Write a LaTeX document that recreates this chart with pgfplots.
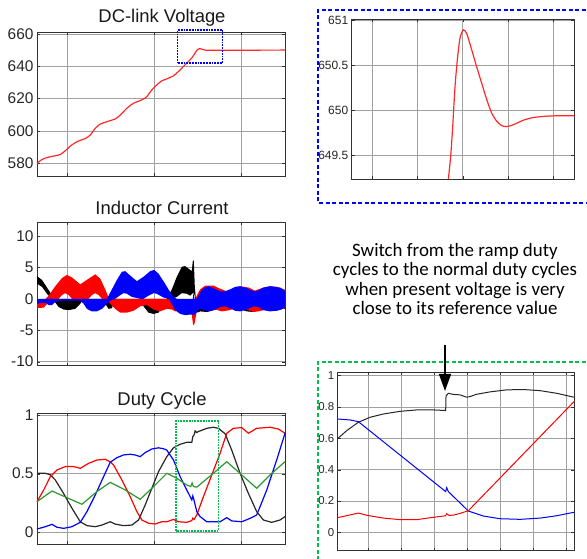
\documentclass[border=0pt]{standalone}
\usepackage{pgfplots}
\pgfplotsset{compat=1.18}
\usepackage{fontspec}
\setmainfont{Liberation Sans}
\newfontfamily\calib{Carlito}
\usetikzlibrary{arrows.meta}
\definecolor{mred}{RGB}{255,40,40}
\definecolor{mgreen}{RGB}{45,150,45}
\definecolor{gridc}{RGB}{160,160,160}
\definecolor{boxgreen}{RGB}{0,190,80}
\pgfplotsset{
  mat/.style={
    scale only axis,
    axis line style={black!80, line width=0.8bp},
    grid=major,
    major grid style={gridc, line width=0.6bp},
    tick align=inside,
    major tick length=3bp,
    tick style={black!80},
    xticklabels={},
    ticklabel style={font=\fontsize{15.5}{16}\selectfont, text=black!85},
    /pgf/number format/assume math mode=true,
    clip=false,
  },
}
\begin{document}
\begin{tikzpicture}[x=1bp,y=1bp]
\useasboundingbox (0,0) rectangle (587,559);

% ---------- DC-link voltage ----------
\begin{axis}[mat, at={(37bp,383bp)}, anchor=south west, width=248bp, height=144bp,
  xmin=110, xmax=855, xtick={200,462,724},
  ymin=572.1, ymax=661.2, ytick={580,600,620,640,660}]
\addplot[mred, line width=1.2bp, smooth, tension=0.4] coordinates {
(110,580)(125,582.3)(140,583.5)(160,584.4)(180,585.4)(195,587.7)(210,590.6)(230,593.3)(255,595.3)(270,597.4)(285,601.6)(300,604.2)(320,605.7)(345,607.4)(360,609.8)(380,614)(400,617.1)(425,619.2)(440,621.2)(455,625.4)(470,628.5)(485,631)(500,632.2)(520,634.1)(535,636.8)(550,639.9)(565,643)(575,645.1)(585,648.2)(592,650.3)(598,650.9)(605,650.6)(615,650)(640,649.9)(855,650)};
\draw[blue, densely dotted, line width=1.8bp] (axis cs:532,641.8) rectangle (axis cs:667,662.3);
\end{axis}
\node[font=\fontsize{18.5}{20}\selectfont, text=black!90] at (162,541) {DC-link Voltage};

% ---------- zoom of voltage ----------
\begin{axis}[mat, at={(351.7bp,380bp)}, anchor=south west, width=222.6bp, height=160bp,
  xmin=155, xmax=823, xtick={217,352,488,625,760},
  ymin=649.24, ymax=651.01, ytick={649.5,650,650.5,651},
  ticklabel style={font=\fontsize{12}{13}\selectfont},
  yticklabel style={/pgf/number format/fixed}]
\addplot[mred, line width=1.2bp, smooth, tension=0.4] coordinates {
(445,649.24)(452,649.49)(458,649.82)(465,650.26)(472,650.56)(480,650.80)(490,650.89)(500,650.85)(515,650.67)(530,650.48)(545,650.30)(560,650.12)(575,649.97)(590,649.88)(605,649.83)(620,649.82)(640,649.84)(670,649.89)(700,649.92)(740,649.935)(780,649.94)(823,649.94)};
\end{axis}
\draw[blue, dash pattern=on 4bp off 2.5bp, line width=1.8bp] (592,549) -- (318,549) -- (318,356) -- (592,356);

% ---------- inductor current ----------
\begin{axis}[mat, at={(37bp,193.3bp)}, anchor=south west, width=248bp, height=143.4bp,
  xmin=110, xmax=855, xtick={200,462,724},
  ymin=-10.64, ymax=12.17, ytick={-10,-5,0,5,10}]
\addplot[fill=black, draw=none] coordinates {
(110,3.6)(125,3.0)(140,1.8)(155,0.6)(165,0)(305,0)(345,0)(410,0)(500,0)(515,1.5)(530,3.5)(545,5.1)(555,5.2)(565,4.8)(575,4.4)(578,6.0)(581,6.1)(584,2.0)(588,-0.5)(595,0.8)(610,1.2)(650,1.0)(700,0.8)(750,1.0)(800,1.0)(855,0.8)
(855,-1.6)(830,-1.3)(790,-1.5)(760,-2.1)(740,-2.0)(700,-1.3)(650,-1.7)(620,-2.1)(600,-2.0)(592,-2.2)(588,-1.5)(584,0.5)(580,1.0)(570,0.5)(560,0.8)(545,0.9)(530,0.3)(515,0)(500,0)(490,-1.0)(475,-2.2)(460,-2.4)(445,-2.2)(430,-1.2)(420,-0.3)(410,0)(345,0)(335,-1.5)(325,-1.6)(315,-0.8)(305,0)(250,0)(240,-0.8)(225,-1.6)(205,-1.8)(190,-1.7)(175,-1.3)(165,-0.6)(155,-0.1)(140,0.8)(125,1.9)(110,2.4)} --cycle;
\addplot[fill=red, draw=none] coordinates {
(110,-0.5)(130,-0.3)(145,0.5)(165,2.0)(185,3.3)(200,3.8)(215,3.4)(240,2.3)(265,3.2)(285,3.9)(300,3.2)(315,1.5)(325,0.2)(330,0)(520,0)(530,-0.2)(575,-0.5)(579,-2.0)(582,-0.5)(590,0.5)(600,1.5)(615,2.1)(640,2.1)(660,1.6)(680,1.2)(700,1.6)(720,2.0)(745,1.8)(765,1.3)(785,1.7)(810,2.0)(840,1.8)(855,1.4)
(855,-1.4)(830,-1.9)(800,-1.7)(775,-2.0)(760,-2.1)(740,-1.7)(715,-1.3)(690,-1.8)(665,-2.0)(640,-1.6)(615,-1.2)(600,-1.5)(590,-2.0)(583,-4.0)(579,-4.2)(575,-2.5)(560,-2.0)(540,-1.9)(525,-2.0)(515,-1.7)(500,-1.6)(480,-2.0)(460,-1.7)(440,-1.0)(420,-1.2)(400,-1.9)(380,-2.2)(360,-2.2)(345,-1.6)(330,-0.8)(320,0)(305,0)(295,0.6)(285,0.9)(275,0.6)(265,0)(215,0)(205,0.6)(195,0.9)(185,0.6)(175,0)(160,0)(145,-0.6)(130,-1.4)(110,-1.5)} --cycle;
\addplot[fill=blue, draw=none] coordinates {
(110,0)(320,0)(335,1.5)(350,3.0)(365,4.3)(375,4.4)(390,3.7)(410,2.8)(430,3.5)(450,4.4)(462,4.6)(475,4.0)(490,2.8)(505,1.5)(520,0.3)(530,0)(578,0)(580,1.0)(583,0)(590,0)(600,1.0)(610,1.7)(625,2.0)(640,1.7)(660,1.2)(675,1.2)(690,1.5)(705,1.9)(720,2.0)(740,1.7)(760,1.2)(775,1.3)(790,1.8)(810,2.0)(830,1.9)(845,1.6)(855,1.3)
(855,-1.3)(845,-1.7)(830,-1.9)(810,-2.0)(790,-1.8)(775,-1.3)(760,-1.2)(740,-1.7)(720,-2.0)(705,-1.9)(690,-1.5)(675,-1.2)(660,-1.3)(640,-1.8)(625,-2.0)(610,-1.8)(600,-1.5)(592,-2.0)(585,-2.5)(570,-2.5)(555,-2.6)(540,-2.4)(525,-1.8)(515,-0.8)(505,0)(490,0.2)(470,0.8)(460,0.9)(445,0.5)(430,0)(420,0)(395,0.3)(380,0.8)(370,0.9)(358,0.5)(345,0)(330,-0.3)(320,-0.8)(305,-1.6)(290,-2.0)(275,-2.0)(260,-1.6)(250,-0.8)(240,-0.3)(180,-0.3)(165,-0.5)(155,-1.0)(145,-1.0)(135,-0.6)(120,-0.7)(110,-0.8)} --cycle;
\end{axis}
\node[font=\fontsize{18.5}{20}\selectfont, text=black!90] at (162,351) {Inductor Current};

% ---------- duty cycle ----------
\begin{axis}[mat, at={(37bp,14.7bp)}, anchor=south west, width=248bp, height=131bp,
  xmin=110, xmax=855, xtick={200,462,724},
  ymin=-0.102, ymax=1.014, ytick={0,0.5,1}]
\addplot[black!85, line width=1.2bp] coordinates {
(110,0.503)(135,0.503)(150,0.49)(165,0.446)(190,0.33)(215,0.205)(240,0.09)(260,0.057)(285,0.048)(305,0.062)(330,0.09)(345,0.07)(370,0.057)(395,0.062)(415,0.105)(435,0.233)(455,0.375)(475,0.517)(500,0.645)(520,0.72)(540,0.75)(560,0.767)(575,0.767)(578,0.815)(582,0.83)(585,0.864)(590,0.85)(595,0.86)(600,0.864)(620,0.886)(640,0.895)(655,0.886)(675,0.84)(695,0.70)(720,0.503)(745,0.332)(770,0.176)(790,0.105)(815,0.085)(840,0.105)(855,0.134)};
\addplot[red, line width=1.2bp] coordinates {
(110,0.261)(130,0.36)(150,0.474)(170,0.531)(195,0.56)(220,0.56)(240,0.545)(265,0.588)(290,0.616)(315,0.622)(330,0.60)(340,0.574)(365,0.446)(390,0.304)(410,0.176)(425,0.105)(445,0.077)(465,0.071)(485,0.09)(500,0.09)(520,0.11)(535,0.09)(560,0.085)(575,0.10)(578,0.12)(582,0.11)(590,0.148)(610,0.304)(635,0.489)(660,0.673)(680,0.844)(700,0.886)(725,0.892)(745,0.844)(770,0.886)(810,0.895)(835,0.88)(855,0.844)};
\addplot[blue, line width=1.2bp] coordinates {
(110,0.028)(135,0.048)(155,0.068)(170,0.043)(190,0.034)(215,0.048)(240,0.085)(260,0.176)(285,0.318)(310,0.474)(330,0.597)(350,0.636)(370,0.659)(390,0.665)(405,0.659)(420,0.645)(435,0.679)(455,0.71)(475,0.72)(490,0.712)(500,0.70)(520,0.616)(540,0.474)(560,0.36)(575,0.276)(578,0.31)(582,0.27)(590,0.176)(600,0.134)(620,0.09)(660,0.09)(680,0.125)(695,0.097)(725,0.09)(750,0.119)(770,0.148)(800,0.36)(830,0.616)(855,0.844)};
\addplot[mgreen, line width=1.2bp] coordinates {
(110,0.261)(155,0.352)(200,0.295)(245,0.239)(290,0.347)(330,0.426)(375,0.361)(420,0.281)(455,0.375)(500,0.503)(530,0.46)(560,0.403)(572,0.39)(576,0.42)(580,0.39)(590,0.385)(640,0.503)(680,0.602)(725,0.489)(770,0.375)(810,0.489)(855,0.602)};
\draw[boxgreen, densely dotted, line width=1.8bp] (axis cs:527,0.011) rectangle (axis cs:655,0.949);
\end{axis}
\node[font=\fontsize{18.5}{20}\selectfont, text=black!90] at (162,158) {Duty Cycle};

% ---------- zoom of duty cycles ----------
\begin{axis}[mat, at={(337.7bp,8.3bp)}, anchor=south west, width=236.3bp, height=178.4bp,
  xmin=113, xmax=822, xtick={205,304,403,502,601,700,799},
  ymin=-0.117, ymax=1.021, ytick={0,0.2,0.4,0.6,0.8,1},
  ticklabel style={font=\fontsize{11.5}{12}\selectfont}]
\addplot[black!85, line width=1bp] coordinates {
(113,0.598)(140,0.649)(175,0.702)(210,0.734)(250,0.755)(300,0.772)(350,0.781)(400,0.781)(437,0.777)(438,0.87)(445,0.887)(460,0.88)(480,0.877)(500,0.862)(510,0.866)(530,0.881)(570,0.896)(620,0.909)(670,0.911)(720,0.904)(770,0.887)(822,0.862)};
\addplot[blue, line width=1bp] coordinates {
(113,0.723)(150,0.717)(175,0.706)(437,0.26)(440,0.285)(445,0.26)(505,0.136)(550,0.104)(600,0.087)(660,0.083)(720,0.091)(770,0.106)(822,0.128)};
\addplot[red, line width=1bp] coordinates {
(113,0.094)(150,0.111)(175,0.123)(200,0.109)(250,0.091)(300,0.081)(350,0.081)(400,0.096)(437,0.106)(440,0.119)(447,0.108)(460,0.11)(480,0.121)(505,0.138)(822,0.834)};
\end{axis}
\draw[boxgreen, dash pattern=on 4bp off 2.5bp, line width=1.5bp] (592,197) -- (318,197) -- (318,-5);

% ---------- annotation ----------
\begin{scope}[every node/.style={anchor=base, font=\calib\fontsize{19}{19}\selectfont, inner sep=0pt}]
\node at (455,302.3) {Switch from the ramp duty};
\node at (455,283.1) {cycles to the normal duty cycles};
\node at (455,263.9) {when present voltage is very};
\node at (455,244.7) {close to its reference value};
\end{scope}
\draw[line width=1.5bp, -{Triangle[width=12bp,length=17bp]}] (445,214) -- (445,168);
\end{tikzpicture}
\end{document}
